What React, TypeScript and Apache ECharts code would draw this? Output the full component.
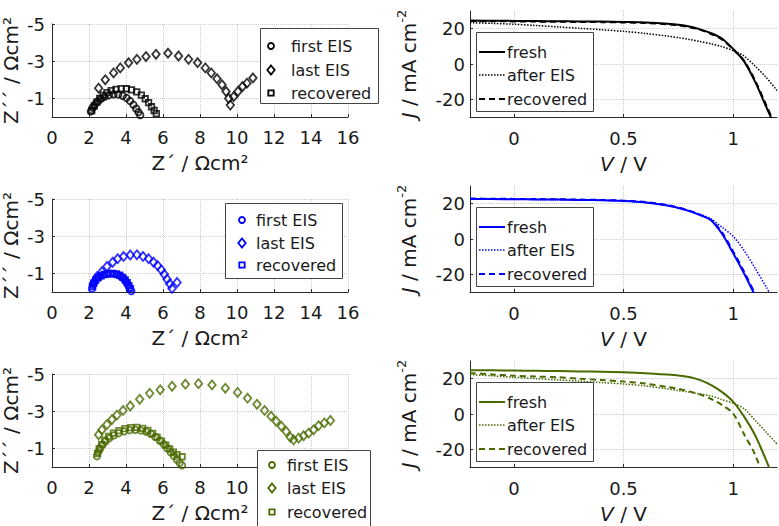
import React, { useEffect, useRef } from "react";
import * as echarts from "echarts";

// ---------- data ----------
const rowColors = ["#000000", "#0000ff", "#4a6a00"];
const eisNames = ["first EIS", "last EIS", "recovered"];
const jvNames = ["fresh", "after EIS", "recovered"];
const zTicksX = [0, 2, 4, 6, 8, 10, 12, 14, 16];
const vTicks = [0, 0.5, 1];
const jTicks = [-20, 0, 20];
// tick labels of the lowest EIS panel hidden behind its legend
const hiddenZLabelsRow3 = [12, 14, 16];

// EIS (Z', Z'') points, Ωcm²
const firstEIS1 = [[2.1,-0.3],[2.2,-0.5],[2.33,-0.68],[2.48,-0.84],[2.65,-0.98],[2.85,-1.09],[3.08,-1.17],[3.33,-1.22],[3.58,-1.21],[3.82,-1.14],[4.03,-1.02],[4.22,-0.86],[4.4,-0.66],[4.55,-0.45],[4.67,-0.26],[4.77,-0.1]];
const lastEIS1 = [[2.52,-1.55],[2.88,-2.0],[3.33,-2.37],[3.69,-2.64],[4.14,-2.92],[4.59,-3.1],[5.08,-3.25],[5.62,-3.37],[6.27,-3.43],[6.84,-3.28],[7.38,-3.1],[7.87,-2.92],[8.29,-2.64],[8.61,-2.37],[8.92,-2.06],[9.19,-1.73],[9.41,-1.37],[9.55,-1.0],[9.64,-0.64],[9.82,-1.09],[10.05,-1.37],[10.3,-1.64],[10.54,-1.82],[10.86,-2.1]];
const recEIS1 = [[2.15,-0.35],[2.28,-0.58],[2.42,-0.8],[2.58,-1.0],[2.76,-1.17],[2.97,-1.31],[3.2,-1.42],[3.46,-1.49],[3.74,-1.53],[4.02,-1.52],[4.3,-1.46],[4.58,-1.35],[4.83,-1.18],[5.04,-0.98],[5.22,-0.77],[5.38,-0.55],[5.52,-0.35],[5.64,-0.18]];

const firstEIS2 = [[2.16,-0.18],[2.2,-0.38],[2.28,-0.55],[2.4,-0.7],[2.55,-0.82],[2.73,-0.91],[2.93,-0.96],[3.14,-0.98],[3.36,-0.97],[3.56,-0.92],[3.73,-0.83],[3.88,-0.71],[4.0,-0.56],[4.1,-0.4],[4.19,-0.24],[4.29,-0.05]];
const lastEIS2 = [[2.25,-0.46],[2.43,-0.82],[2.7,-1.09],[2.97,-1.37],[3.28,-1.6],[3.55,-1.79],[3.87,-1.91],[4.23,-1.99],[4.59,-2.0],[4.92,-1.91],[5.22,-1.79],[5.49,-1.6],[5.71,-1.42],[5.91,-1.19],[6.07,-0.95],[6.22,-0.69],[6.36,-0.44],[6.49,-0.19],[6.76,-0.51]];
const recEIS2 = [[2.2,-0.28],[2.26,-0.46],[2.36,-0.62],[2.5,-0.76],[2.66,-0.87],[2.85,-0.95],[3.05,-0.99],[3.27,-1.0],[3.48,-0.97],[3.67,-0.9],[3.83,-0.79],[3.96,-0.65],[4.07,-0.5],[4.16,-0.34],[4.24,-0.18]];

const firstEIS3 = [[2.43,-0.58],[2.5,-0.8],[2.6,-1.0],[2.74,-1.2],[2.9,-1.38],[3.1,-1.55],[3.34,-1.7],[3.6,-1.82],[3.9,-1.92],[4.2,-1.98],[4.5,-2.0],[4.8,-1.97],[5.08,-1.9],[5.34,-1.78],[5.58,-1.62],[5.82,-1.43],[6.04,-1.22],[6.24,-1.0],[6.43,-0.78],[6.6,-0.58],[6.76,-0.4],[6.9,-0.22],[7.03,-0.09]];
const lastEIS3 = [[2.52,-1.73],[2.7,-2.0],[2.97,-2.28],[3.24,-2.55],[3.51,-2.79],[3.84,-3.04],[4.23,-3.28],[4.74,-3.64],[5.28,-3.96],[5.85,-4.15],[6.49,-4.34],[7.21,-4.45],[7.92,-4.48],[8.65,-4.41],[9.37,-4.23],[10.03,-4.01],[10.57,-3.7],[11.08,-3.37],[11.49,-3.04],[11.84,-2.73],[12.12,-2.46],[12.4,-2.19],[12.66,-1.91],[12.88,-1.6],[13.06,-1.46],[13.33,-1.55],[13.6,-1.68],[13.87,-1.82],[14.14,-2.0],[14.41,-2.22],[14.72,-2.37],[15.05,-2.5]];
const recEIS3 = [[2.46,-0.72],[2.55,-0.98],[2.68,-1.22],[2.85,-1.45],[3.06,-1.65],[3.32,-1.82],[3.62,-1.96],[3.94,-2.06],[4.26,-2.12],[4.58,-2.13],[4.9,-2.08],[5.18,-1.97],[5.44,-1.81],[5.68,-1.61],[5.92,-1.39],[6.15,-1.17],[6.36,-0.97],[6.56,-0.8],[6.76,-0.66],[7.03,-0.55]];

// J–V curves, V in volts, J in mA cm^-2
const voltage = [-0.2,-0.1,0,0.1,0.2,0.3,0.4,0.5,0.6,0.7,0.75,0.8,0.85,0.9,0.95,1.0,1.05,1.1,1.15,1.2];
const fresh1 = [24.6,24.5,24.4,24.3,24.2,24.1,24.0,23.8,23.5,22.8,22.2,21.2,19.6,17.4,14.3,8.5,1.5,-10,-24,-38];
const after1 = [23.4,23.0,22.5,21.8,21.0,20.2,19.4,18.5,17.3,15.8,14.9,13.9,12.7,11.4,9.8,7.6,4.5,-1.2,-7.5,-15];
const recov1 = [24.3,24.2,24.1,24.0,23.9,23.8,23.7,23.5,23.2,22.5,21.9,20.9,19.3,17.0,13.8,8.2,1.8,-9.3,-23,-37];
const fresh2 = [22.6,22.6,22.5,22.4,22.3,22.1,21.9,21.5,20.7,19.0,17.6,15.8,13.5,10.5,2.8,-8,-19.5,-32,-45,-58];
const after2 = [22.6,22.6,22.5,22.4,22.3,22.1,21.9,21.5,20.7,19.0,17.7,16.0,13.9,11.3,6.6,1.5,-6.5,-16.5,-27,-38];
const recov2 = [22.9,22.8,22.7,22.6,22.5,22.3,22.1,21.7,20.9,19.2,17.8,16.0,13.7,10.7,3.6,-7,-18.5,-31,-44,-57];
const fresh3 = [24.8,24.7,24.6,24.45,24.3,24.1,23.9,23.6,23.1,22.3,21.8,21.0,19.2,16.4,12.4,7.0,-1.5,-12,-26,-42];
const after3 = [22.3,21.6,20.8,20.0,19.3,18.6,17.8,17.0,15.9,14.2,13.3,12.3,11.3,10.2,8.1,6.1,3.0,-3.5,-10.2,-17];
const recov3 = [23.2,22.4,21.7,21.2,20.8,20.0,19.2,18.4,17.2,15.3,14.2,12.8,11.0,8.5,5.0,0.3,-11.5,-23,-40,-57];

const eisRows = [
  [firstEIS1, lastEIS1, recEIS1],
  [firstEIS2, lastEIS2, recEIS2],
  [firstEIS3, lastEIS3, recEIS3],
];
const jvRows = [
  [fresh1, after1, recov1],
  [fresh2, after2, recov2],
  [fresh3, after3, recov3],
];

// ---------- style ----------
const FONT = '"DejaVu Sans", "Liberation Sans", sans-serif';
const TXT = "#1a1a1a";
const AX = "#2b2b2b";
const GRIDC = "#c9ced3";
const ROW_STEP = 175;

const eisSymbols = ["circle", "diamond", "rect"];
const eisSizes: any[] = [6.5, [7.5, 9], 5.5];
const jvLineTypes: any[] = ["solid", "dotted", [6, 4]];
const jvWidths = [2, 1.5, 2];

// legend layouts (left panels)
const leftLegends = [
  { x: 260, y: 28, w: 118, h: 75, mx: 271, tx: 291, ys: [46, 70, 93] },
  { x: 225, y: 203, w: 117, h: 75, mx: 242, tx: 256, ys: [220, 243, 265] },
  { x: 257, y: 450, w: 113, h: 80, mx: 272, tx: 287, ys: [465, 488, 512] },
];

function legendMarker(kind: number, x: number, y: number, color: string) {
  const style = { fill: "none", stroke: color, lineWidth: 1.8 };
  if (kind === 0) return { type: "circle", z: 101, shape: { cx: x, cy: y, r: 3 }, style };
  if (kind === 1)
    return { type: "polygon", z: 101, shape: { points: [[x, y - 4.5], [x + 3.7, y], [x, y + 4.5], [x - 3.7, y]] }, style };
  return { type: "rect", z: 101, shape: { x: x - 2.7, y: y - 2.7, width: 5.4, height: 5.4 }, style };
}

function legendText(text: string, x: number, y: number) {
  return {
    type: "text",
    z: 101,
    style: { text, x, y, fill: TXT, font: `16px ${FONT}`, textAlign: "left", textVerticalAlign: "middle", verticalAlign: "middle" },
  };
}

function buildOption() {
  const grid: any[] = [];
  const xAxis: any[] = [];
  const yAxis: any[] = [];
  const series: any[] = [];
  const graphic: any[] = [];

  for (let r = 0; r < 3; r++) {
    const off = r * ROW_STEP;
    const color = rowColors[r];
    const gl = r * 2;
    const gr = r * 2 + 1;
    grid.push({ left: 52, top: 24 + off, width: 296, height: 93 });
    grid.push({ left: 470, top: 11 + off, width: 307, height: 106 });

    const hideList = r === 2 ? hiddenZLabelsRow3 : [];
    xAxis.push({
      type: "value", gridIndex: gl, min: zTicksX[0], max: zTicksX[zTicksX.length - 1], interval: 2,
      name: "Z´ / Ωcm²", nameLocation: "middle", nameGap: 36,
      nameTextStyle: { fontFamily: FONT, fontSize: 20, color: TXT },
      axisLine: { show: true, onZero: false, lineStyle: { color: AX, width: 1 } },
      axisTick: { show: true, inside: true, length: 3, lineStyle: { color: AX } },
      axisLabel: {
        fontFamily: FONT, fontSize: 18, color: TXT, margin: 11,
        formatter: (v: number) => (hideList.indexOf(v) >= 0 ? "" : String(v)),
      },
      splitLine: { show: true, lineStyle: { color: GRIDC, type: "dotted", width: 1 } },
    });
    yAxis.push({
      type: "value", gridIndex: gl, min: -5, max: 0, interval: 2, inverse: true,
      name: "Z´´ / Ωcm²", nameLocation: "middle", nameGap: 31,
      nameTextStyle: { fontFamily: FONT, fontSize: 20, color: TXT },
      axisLine: { show: true, onZero: false, lineStyle: { color: AX, width: 1 } },
      axisTick: { show: true, inside: true, length: 3, lineStyle: { color: AX } },
      axisLabel: { fontFamily: FONT, fontSize: 18, color: TXT, margin: 7, formatter: (v: number) => (v === 0 ? "" : String(v)) },
      splitLine: { show: true, lineStyle: { color: GRIDC, type: "dotted", width: 1 } },
    });
    xAxis.push({
      type: "value", gridIndex: gr, min: -0.2, max: 1.2,
      name: "{i|V} / V", nameLocation: "middle", nameGap: 37,
      nameTextStyle: { fontFamily: FONT, fontSize: 20, color: TXT, rich: { i: { fontFamily: FONT, fontSize: 20, fontStyle: "italic", color: TXT } } },
      axisLine: { show: true, onZero: false, lineStyle: { color: AX, width: 1 } },
      axisTick: { show: true, inside: true, length: 3, customValues: vTicks, lineStyle: { color: AX } },
      axisLabel: { fontFamily: FONT, fontSize: 18, color: TXT, margin: 12, customValues: vTicks },
      splitLine: { show: true, lineStyle: { color: GRIDC, type: "dotted", width: 1 } },
    });
    yAxis.push({
      type: "value", gridIndex: gr, min: -30, max: 30,
      name: "{i|J} / mA cm{s|-2}", nameLocation: "middle", nameGap: 48,
      nameTextStyle: {
        fontFamily: FONT, fontSize: 20, color: TXT,
        rich: {
          i: { fontFamily: FONT, fontSize: 20, fontStyle: "italic", color: TXT },
          s: { fontFamily: FONT, fontSize: 13, color: TXT, padding: [0, 0, 14, 0] },
        },
      },
      axisLine: { show: true, onZero: false, lineStyle: { color: AX, width: 1 } },
      axisTick: { show: true, inside: true, length: 3, customValues: jTicks, lineStyle: { color: AX } },
      axisLabel: { fontFamily: FONT, fontSize: 18, color: TXT, margin: 5, customValues: jTicks },
      splitLine: { show: true, lineStyle: { color: GRIDC, type: "dotted", width: 1 } },
    });

    eisRows[r].forEach((pts, k) => {
      series.push({
        type: "scatter", name: eisNames[k], xAxisIndex: gl, yAxisIndex: gl,
        symbol: eisSymbols[k], symbolSize: eisSizes[k], silent: true,
        itemStyle: { color: "rgba(0,0,0,0)", borderColor: color, borderWidth: 1.8 },
        data: pts,
      });
    });
    jvRows[r].forEach((vals, k) => {
      series.push({
        type: "line", name: jvNames[k], xAxisIndex: gr, yAxisIndex: gr,
        showSymbol: false, smooth: 0.3, silent: true, clip: true,
        lineStyle: { color, width: jvWidths[k], type: jvLineTypes[k] },
        data: voltage.map((v, i) => [v, vals[i]]),
      });
    });

    // left legend
    const L = leftLegends[r];
    graphic.push({ type: "rect", z: 100, shape: { x: L.x + 0.5, y: L.y + 0.5, width: L.w, height: L.h }, style: { fill: "#fff", stroke: "#444", lineWidth: 1 } });
    eisNames.forEach((nm, k) => {
      graphic.push(legendMarker(k, L.mx, L.ys[k], color));
      graphic.push(legendText(nm, L.tx, L.ys[k]));
    });
    // right legend
    graphic.push({ type: "rect", z: 100, shape: { x: 476.5, y: 32.5 + off, width: 117, height: 79 }, style: { fill: "#fff", stroke: "#444", lineWidth: 1 } });
    const rys = [52, 75, 99];
    jvNames.forEach((nm, k) => {
      const y = rys[k] + off;
      graphic.push({
        type: "line", z: 101, shape: { x1: 479, y1: y, x2: 505, y2: y },
        style: { stroke: color, lineWidth: jvWidths[k], lineDash: k === 0 ? null : k === 1 ? [1.5, 1.5] : [6, 4] },
      });
      graphic.push(legendText(nm, 507, y));
    });
  }

  return { animation: false, backgroundColor: "#ffffff", grid, xAxis, yAxis, series, graphic };
}

export default function App() {
  const ref = useRef<HTMLDivElement>(null);
  useEffect(() => {
    if (!ref.current) return;
    const chart = echarts.init(ref.current, undefined, { renderer: "svg" });
    chart.setOption(buildOption() as any);
    return () => chart.dispose();
  }, []);
  return <div ref={ref} style={{ position: "absolute", left: 0, top: 0, width: 779, height: 526 }} />;
}
